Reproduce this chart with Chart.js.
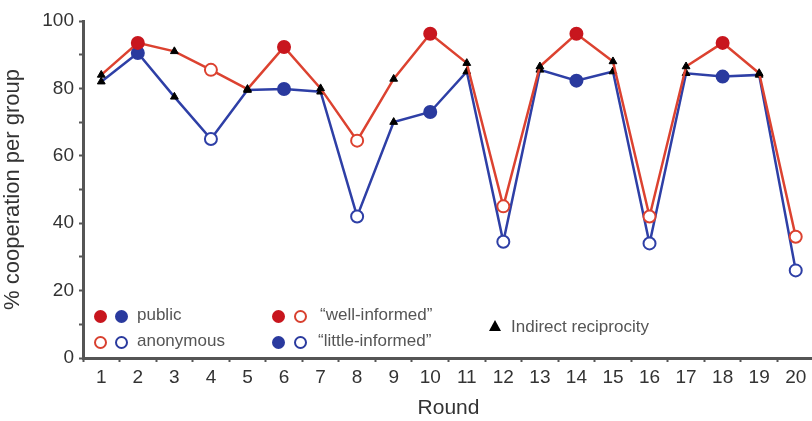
<!DOCTYPE html>
<html lang="en">
<head>
<meta charset="UTF-8">
<title>Cooperation per round</title>
<script src="https://cdn.jsdelivr.net/npm/chart.js"></script>
<style>
    html, body { margin: 0; padding: 0; background: #fff; overflow: hidden; }
    .wrap { position: relative; width: 822px; height: 421px; }
    .legenda { position: absolute; font-family: "Liberation Sans", Arial, sans-serif; font-size: 17px; color: #555; white-space: nowrap; }
    .dot { position: absolute; width: 9px; height: 9px; border-radius: 50%; }
    .tri { position: absolute; width: 0; height: 0; border-left: 6px solid transparent; border-right: 6px solid transparent; border-bottom: 11px solid #000; }
</style>
</head>
<body>
<div class="wrap">
    <canvas id="grafico" width="822" height="421"></canvas>

    <!-- legenda desenhada por cima do grafico -->
    <span class="dot" style="left:94px;top:310px;background:#c8161e;border:2px solid #c8161e"></span>
    <span class="dot" style="left:115px;top:310px;background:#2a3a9e;border:2px solid #2a3a9e"></span>
    <span class="legenda" style="left:137px;top:305px">public</span>
    <span class="dot" style="left:94px;top:336px;border:2px solid #d8402f"></span>
    <span class="dot" style="left:115px;top:336px;border:2px solid #2a3a9e"></span>
    <span class="legenda" style="left:137px;top:331px">anonymous</span>

    <span class="dot" style="left:272px;top:310px;background:#c8161e;border:2px solid #c8161e"></span>
    <span class="dot" style="left:294px;top:310px;border:2px solid #d8402f"></span>
    <span class="legenda" style="left:320px;top:305px">“well-informed”</span>
    <span class="dot" style="left:272px;top:336px;background:#2a3a9e;border:2px solid #2a3a9e"></span>
    <span class="dot" style="left:294px;top:336px;border:2px solid #2a3a9e"></span>
    <span class="legenda" style="left:318px;top:331px">“little-informed”</span>

    <span class="tri" style="left:489px;top:320px"></span>
    <span class="legenda" style="left:511px;top:317px">Indirect reciprocity</span>
</div>

<script>
    // dados
    var rodadas = ['1', '2', '3', '4', '5', '6', '7', '8', '9', '10', '11', '12', '13', '14', '15', '16', '17', '18', '19', '20'];
    var bemInformados = [84, 93.5, 91, 85.5, 79.8, 92.3, 80, 64.5, 82.8, 96.2, 87.5, 45, 86.5, 96.2, 88, 42, 86.5, 93.5, 84.5, 36];
    var poucoInformados = [82, 90.5, 77.5, 65, 79.5, 79.8, 79, 42, 70, 73, 85, 34.5, 85.5, 82.3, 85, 34, 84.5, 83.5, 84, 26];
    // tipo de cada rodada: 'ir' = indirect reciprocity, 'pub' = public, 'anon' = anonymous
    var tipoRodada = ['ir', 'pub', 'ir', 'anon', 'ir', 'pub', 'ir', 'anon', 'ir', 'pub', 'ir', 'anon', 'ir', 'pub', 'ir', 'anon', 'ir', 'pub', 'ir', 'anon'];
    var ticksY = [0, 20, 40, 60, 80, 100];

    var vermelho = '#dc4230';
    var vermelhoPonto = '#c8161e';
    var azul = '#2e3fa6';
    var azulPonto = '#2a3a9e';

    function estilos(corLinha, corPonto) {
        return {
            estilo: tipoRodada.map(function (t) { return t == 'ir' ? 'triangle' : 'circle'; }),
            fundo: tipoRodada.map(function (t) {
                if (t == 'ir') return '#000';
                if (t == 'pub') return corPonto;
                return '#fff';
            }),
            borda: tipoRodada.map(function (t) {
                if (t == 'ir') return '#000';
                if (t == 'pub') return corPonto;
                return corLinha;
            }),
            raio: tipoRodada.map(function (t) { return t == 'ir' ? 4.5 : 6; }),
            bordaLargura: tipoRodada.map(function (t) { return t == 'ir' ? 1 : 2; })
        };
    }

    var eV = estilos(vermelho, vermelhoPonto);
    var eA = estilos(azul, azulPonto);

    var fonte = { family: '"Liberation Sans", Arial, sans-serif', size: 19 };

    var ctx = document.getElementById('grafico').getContext('2d');
    new Chart(ctx, {
        type: 'line',
        data: {
            labels: rodadas,
            datasets: [
                {
                    label: 'well-informed',
                    data: bemInformados,
                    borderColor: vermelho,
                    borderWidth: 2.5,
                    pointStyle: eV.estilo,
                    pointBackgroundColor: eV.fundo,
                    pointBorderColor: eV.borda,
                    pointBorderWidth: eV.bordaLargura,
                    pointRadius: eV.raio,
                    tension: 0
                },
                {
                    label: 'little-informed',
                    data: poucoInformados,
                    borderColor: azul,
                    borderWidth: 2.5,
                    pointStyle: eA.estilo,
                    pointBackgroundColor: eA.fundo,
                    pointBorderColor: eA.borda,
                    pointBorderWidth: eA.bordaLargura,
                    pointRadius: eA.raio,
                    tension: 0
                }
            ]
        },
        options: {
            responsive: false,
            animation: false,
            layout: { padding: { top: 21, right: 0, bottom: 0, left: 0 } },
            plugins: {
                legend: { display: false },
                tooltip: { enabled: false }
            },
            scales: {
                x: {
                    offset: true,
                    afterFit: function (scale) { scale.height = 63; },
                    border: { color: '#555', width: 3 },
                    grid: { offset: true, drawOnChartArea: false, tickLength: 4, color: '#555', tickWidth: 2 },
                    ticks: { color: '#333', font: fonte, padding: 4, maxRotation: 0, autoSkip: false },
                    title: { display: true, text: 'Round', color: '#333', font: { family: fonte.family, size: 21 }, padding: 0 }
                },
                y: {
                    min: 0,
                    max: 100,
                    afterFit: function (scale) { scale.width = 83; },
                    afterBuildTicks: function (scale) {
                        var t = [];
                        for (var v = 0; v <= 100; v += 10) t.push({ value: v });
                        scale.ticks = t;
                    },
                    border: { color: '#555', width: 3 },
                    grid: { drawOnChartArea: false, tickLength: 4, color: '#555', tickWidth: 2 },
                    ticks: {
                        color: '#333',
                        font: fonte,
                        padding: 5,
                        callback: function (v) { return ticksY.indexOf(v) >= 0 ? String(v) : ''; }
                    },
                    title: { display: true, text: '% cooperation per group', color: '#333', font: { family: fonte.family, size: 22 }, padding: 0 }
                }
            }
        }
    });
</script>
</body>
</html>
